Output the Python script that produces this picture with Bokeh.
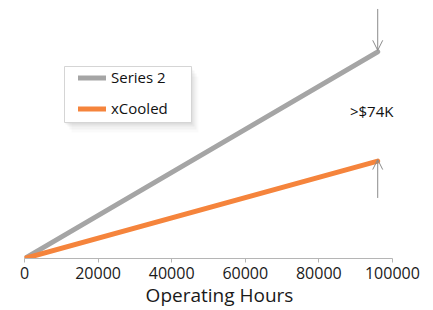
from bokeh.plotting import figure
from bokeh.models import (Range1d, FixedTicker, Legend, LegendItem, Arrow, OpenHead,
                          Label, NumeralTickFormatter, BoxAnnotation)
from bokeh.embed import file_html
from bokeh.resources import INLINE

hours = [0, 96000]
series2 = [0, 140000]
xcooled = [0, 66000]
x_ticks = [0, 20000, 40000, 60000, 80000, 100000]

FONT = "Open Sans"
GRAY = "#A5A5A5"
ORANGE = "#F5843C"

p = figure(width=420, height=310, output_backend="svg", toolbar_location=None,
           x_range=Range1d(0, 106000), y_range=Range1d(0, 170000),
           y_axis_location=None, min_border_left=24, min_border_right=6,
           min_border_top=7, min_border_bottom=20)
p.outline_line_color = None
p.xgrid.visible = False
p.ygrid.visible = False

# legend box with soft shadow (screen units, relative to frame bottom-left)
BOX = dict(left=40, right=167, top=192, bottom=136)
for dx, dy, a in [(7, 10, 0.02), (5, 7, 0.03), (3, 4, 0.04), (1, 2, 0.05)]:
    p.add_layout(BoxAnnotation(left=BOX["left"] + dx, right=BOX["right"] + dx,
                               top=BOX["top"] - dy, bottom=BOX["bottom"] - dy,
                               left_units="screen", right_units="screen",
                               top_units="screen", bottom_units="screen",
                               fill_color="black", fill_alpha=a, line_color=None))
p.add_layout(BoxAnnotation(**BOX,
                           left_units="screen", right_units="screen",
                           top_units="screen", bottom_units="screen",
                           fill_color="white", fill_alpha=1.0,
                           line_color="#D5D5D5", line_width=1, line_alpha=1.0))

r1 = p.line(hours, series2, line_width=5, line_color=GRAY, line_cap="round")
r2 = p.line(hours, xcooled, line_width=5, line_color=ORANGE, line_cap="round")

ax = p.xaxis[0]
ax.ticker = FixedTicker(ticks=x_ticks)
ax.formatter = NumeralTickFormatter(format="0")
ax.bounds = (x_ticks[0], x_ticks[-1])
ax.minor_tick_line_color = None
ax.axis_line_color = "#B5B5B5"
ax.major_tick_line_color = "#B5B5B5"
ax.major_tick_in = 0
ax.major_tick_out = 4
ax.major_label_text_font = FONT
ax.major_label_text_font_size = "16px"
ax.major_label_text_color = "#1A1A1A"
ax.major_label_standoff = 4
ax.axis_label = "Operating Hours"
ax.axis_label_text_font = FONT
ax.axis_label_text_font_size = "19px"
ax.axis_label_text_font_style = "normal"
ax.axis_label_text_color = "#1A1A1A"
ax.axis_label_standoff = 0

# arrows marking the gap
x_end = hours[-1]
p.add_layout(Arrow(end=OpenHead(size=10, line_color="#8C8C8C", line_width=1),
                   x_start=x_end, y_start=p.y_range.end - 1000,
                   x_end=x_end, y_end=series2[-1] + 1000,
                   line_color="#8C8C8C", line_width=1))
p.add_layout(Arrow(end=OpenHead(size=10, line_color="#8C8C8C", line_width=1),
                   x_start=x_end, y_start=xcooled[-1] - 25000,
                   x_end=x_end, y_end=xcooled[-1] + 1000,
                   line_color="#8C8C8C", line_width=1))
gap = series2[-1] - xcooled[-1]
p.add_layout(Label(x=x_end, y=(series2[-1] + xcooled[-1]) / 2,
                   x_offset=-6, y_offset=-5,
                   text=">$%dK" % round(gap / 1000),
                   text_font=FONT, text_font_size="15px", text_color="#111111",
                   text_align="center", text_baseline="middle"))

legend = Legend(items=[LegendItem(label="Series 2", renderers=[r1]),
                       LegendItem(label="xCooled", renderers=[r2])],
                location=(54, 140))
legend.label_text_font = FONT
legend.label_text_font_size = "15px"
legend.label_text_color = "#111111"
legend.border_line_color = None
legend.background_fill_alpha = 0
legend.glyph_width = 28
legend.glyph_height = 17
legend.label_height = 17
legend.label_standoff = 5
legend.spacing = 11
legend.padding = 0
legend.margin = 0
p.add_layout(legend, "center")

open("out.html", "w").write(file_html(p, INLINE))
